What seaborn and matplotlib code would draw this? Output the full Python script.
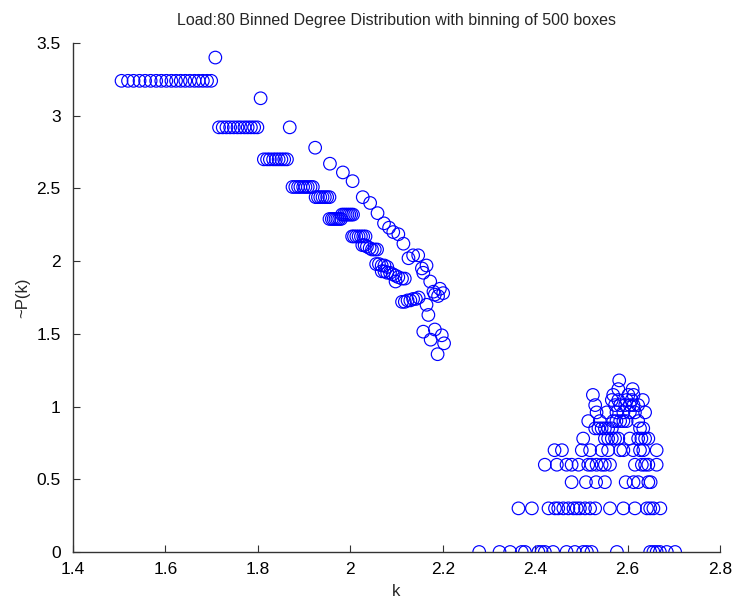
import matplotlib
matplotlib.use("Agg")
import matplotlib.pyplot as plt
import seaborn as sns
import pandas as pd

# ---- data: log-degree k and binned distribution value ~P(k) ----
# staircase segment (rows of equal value, each followed by one raised point)
k_upper = [
    1.505, 1.519, 1.531, 1.544, 1.556, 1.568, 1.580, 1.591, 1.602, 1.613,
    1.623, 1.633, 1.643, 1.653, 1.663, 1.672, 1.681, 1.690, 1.699, 1.708,
    1.716, 1.724, 1.732, 1.740, 1.748, 1.756, 1.763, 1.771, 1.778, 1.785,
    1.792, 1.799, 1.806,
    1.813, 1.820, 1.826, 1.833, 1.839, 1.845, 1.851, 1.857, 1.863, 1.869,
    1.875, 1.881, 1.887, 1.892, 1.898, 1.903, 1.908, 1.914, 1.919, 1.924,
]
p_upper = [
    3.24, 3.24, 3.24, 3.24, 3.24, 3.24, 3.24, 3.24, 3.24, 3.24,
    3.24, 3.24, 3.24, 3.24, 3.24, 3.24, 3.24, 3.24, 3.24, 3.40,
    2.92, 2.92, 2.92, 2.92, 2.92, 2.92, 2.92, 2.92, 2.92, 2.92,
    2.92, 2.92, 3.12,
    2.70, 2.70, 2.70, 2.70, 2.70, 2.70, 2.70, 2.70, 2.70, 2.92,
    2.51, 2.51, 2.51, 2.51, 2.51, 2.51, 2.51, 2.51, 2.51, 2.78,
]

# lower band of the descending arm
k_band = [
    1.925, 1.930, 1.935, 1.940, 1.945, 1.950, 1.955,
    1.955, 1.960, 1.964, 1.968, 1.972, 1.976, 1.980,
    1.982, 1.986, 1.990, 1.994, 1.998, 2.002, 2.006,
    2.004, 2.008, 2.013, 2.018, 2.023, 2.028, 2.033,
    2.026, 2.031, 2.036, 2.042, 2.047, 2.053, 2.058,
    2.056, 2.062, 2.068, 2.074, 2.080,
    2.068, 2.074, 2.080, 2.086, 2.092, 2.098, 2.104, 2.112, 2.118,
    2.098,
    2.112, 2.118, 2.124, 2.130, 2.136, 2.142, 2.148,
]
p_band = [
    2.44, 2.44, 2.44, 2.44, 2.44, 2.44, 2.44,
    2.29, 2.29, 2.29, 2.29, 2.29, 2.29, 2.29,
    2.32, 2.32, 2.32, 2.32, 2.32, 2.32, 2.32,
    2.17, 2.17, 2.17, 2.17, 2.17, 2.17, 2.17,
    2.11, 2.11, 2.10, 2.09, 2.08, 2.08, 2.08,
    1.98, 1.98, 1.97, 1.97, 1.96,
    1.93, 1.93, 1.92, 1.92, 1.91, 1.90, 1.89, 1.88, 1.88,
    1.86,
    1.72, 1.72, 1.73, 1.73, 1.74, 1.74, 1.75,
]

# upper band of the descending arm and its scattered tail
k_tail = [
    1.956, 1.984, 2.005, 2.027, 2.043, 2.059, 2.073, 2.084, 2.093, 2.104,
    2.115, 2.126, 2.136, 2.147, 2.155, 2.165, 2.158, 2.173, 2.194, 2.180,
    2.201, 2.190, 2.183, 2.165, 2.169, 2.158, 2.183, 2.198, 2.174, 2.203,
    2.189,
]
p_tail = [
    2.67, 2.61, 2.55, 2.44, 2.40, 2.33, 2.26, 2.23, 2.20, 2.185,
    2.12, 2.02, 2.04, 2.04, 1.95, 1.97, 1.92, 1.86, 1.81, 1.79,
    1.78, 1.76, 1.77, 1.70, 1.63, 1.515, 1.53, 1.49, 1.46, 1.435,
    1.36,
]

# high-degree cluster
k_cluster = [
    # ~P = 0
    2.279, 2.323, 2.346, 2.371, 2.378, 2.407, 2.414, 2.421, 2.439, 2.468,
    2.486, 2.504, 2.512, 2.522, 2.577, 2.649, 2.656, 2.663, 2.670, 2.685,
    2.703,
    # ~P = 0.30
    2.364, 2.393, 2.429, 2.443, 2.450, 2.461, 2.472, 2.483, 2.490, 2.497,
    2.508, 2.519, 2.530, 2.562, 2.591, 2.616, 2.642, 2.649, 2.656, 2.671,
    # ~P = 0.48
    2.479, 2.510, 2.532, 2.551, 2.596, 2.613, 2.623, 2.645, 2.650,
    # ~P = 0.60
    2.421, 2.447, 2.468, 2.479, 2.494, 2.515, 2.522, 2.533, 2.544, 2.551,
    2.562, 2.616, 2.631, 2.638, 2.645, 2.663,
    # ~P = 0.70
    2.442, 2.458, 2.501, 2.519, 2.544, 2.558, 2.584, 2.591, 2.612, 2.627,
    2.634, 2.663,
    # ~P = 0.78
    2.504, 2.551, 2.558, 2.566, 2.573, 2.580, 2.605, 2.623, 2.630, 2.638,
    2.645,
    # ~P = 0.85
    2.530, 2.537, 2.544, 2.551, 2.558, 2.566, 2.627, 2.634,
    # ~P = 0.90
    2.515, 2.540, 2.569, 2.576, 2.584, 2.591, 2.598, 2.623,
    # ~P = 0.96
    2.533, 2.555, 2.576, 2.591, 2.605, 2.616, 2.638,
    # ~P = 1.01
    2.530, 2.573, 2.584, 2.595, 2.605, 2.613, 2.623,
    # ~P = 1.045
    2.566, 2.580, 2.598, 2.609, 2.633,
    # ~P = 1.08
    2.525, 2.569, 2.602, 2.613,
    # ~P = 1.12 and above
    2.580, 2.611, 2.582,
]
p_cluster = (
    [0.0] * 21 + [0.30] * 20 + [0.48] * 9 + [0.60] * 16 + [0.70] * 12
    + [0.78] * 11 + [0.85] * 8 + [0.90] * 8 + [0.96] * 7 + [1.01] * 7
    + [1.045] * 5 + [1.08] * 4 + [1.12, 1.12, 1.18]
)

df = pd.DataFrame({
    "k": k_upper + k_band + k_tail + k_cluster,
    "P": p_upper + p_band + p_tail + p_cluster,
})

# ---- drawing ----
sns.set_style("white")
plt.rcParams["font.family"] = ["Liberation Sans", "DejaVu Sans"]

fig = plt.figure(figsize=(7.36, 5.99), dpi=100)
ax = fig.add_axes([0.0992, 0.0785, 0.8790, 0.8497])

sns.scatterplot(
    data=df, x="k", y="P", ax=ax,
    marker="o", s=82, facecolors="none", edgecolor="#0000ff",
    linewidth=0.85, legend=False,
)

ax.set_xlim(1.4, 2.8)
ax.set_ylim(0, 3.5)
ax.set_xticks([1.4, 1.6, 1.8, 2.0, 2.2, 2.4, 2.6, 2.8])
ax.set_xticklabels(["1.4", "1.6", "1.8", "2", "2.2", "2.4", "2.6", "2.8"])
ax.set_yticks([0, 0.5, 1, 1.5, 2, 2.5, 3, 3.5])
ax.set_yticklabels(["0", "0.5", "1", "1.5", "2", "2.5", "3", "3.5"])

for side in ("top", "right"):
    ax.spines[side].set_visible(False)
for side in ("left", "bottom"):
    ax.spines[side].set_color("#333333")
    ax.spines[side].set_linewidth(1.0)

ax.tick_params(axis="both", direction="in", length=5, width=0.8,
               color="#333333", labelsize=12.5, labelcolor="black")
ax.tick_params(axis="x", bottom=True, pad=7)
ax.tick_params(axis="y", left=True, pad=9)

ax.set_xlabel("k", fontsize=12, labelpad=5)
ax.set_ylabel("~P(k)", fontsize=12, labelpad=4)
ax.set_title("Load:80 Binned Degree Distribution with binning of 500 boxes",
             fontsize=11.5, pad=13)

fig.savefig("out.png", dpi=100)
